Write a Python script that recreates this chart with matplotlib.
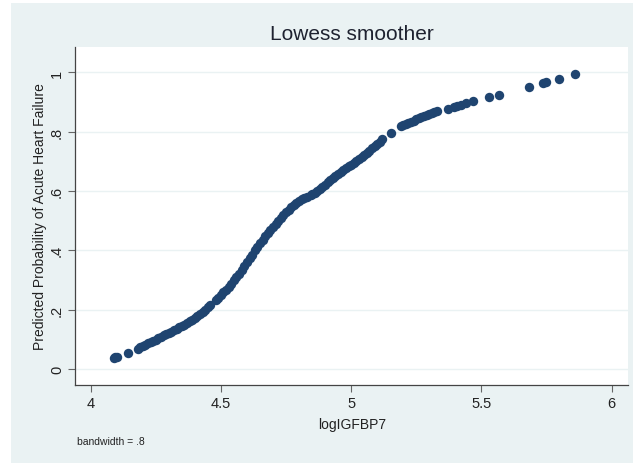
import matplotlib
matplotlib.use("Agg")
import matplotlib.pyplot as plt
from matplotlib.patches import Rectangle

plt.rcParams['font.family'] = ['Liberation Sans', 'DejaVu Sans']

# logIGFBP7 values and lowess predicted probability
log_igfbp7 = [
    4.088, 4.094, 4.100, 4.145, 4.180, 4.190, 4.200, 4.210, 4.220, 4.230,
    4.240, 4.250, 4.260, 4.270, 4.280, 4.290, 4.300, 4.310, 4.320, 4.330,
    4.340, 4.350, 4.360, 4.370, 4.380, 4.390, 4.400, 4.410, 4.420, 4.430,
    4.440, 4.450, 4.460, 4.480, 4.490, 4.500, 4.510, 4.520, 4.530, 4.540,
    4.550, 4.560, 4.570, 4.580, 4.590, 4.600, 4.610, 4.620, 4.630, 4.640,
    4.650, 4.660, 4.670, 4.680, 4.690, 4.700, 4.710, 4.720, 4.730, 4.740,
    4.750, 4.760, 4.770, 4.780, 4.790, 4.800, 4.810, 4.820, 4.830, 4.845,
    4.850, 4.860, 4.870, 4.880, 4.890, 4.900, 4.910, 4.920, 4.930, 4.940,
    4.950, 4.960, 4.970, 4.980, 4.990, 5.000, 5.010, 5.020, 5.030, 5.040,
    5.050, 5.060, 5.070, 5.080, 5.090, 5.100, 5.110, 5.120, 5.155, 5.190,
    5.200, 5.210, 5.220, 5.230, 5.240, 5.250, 5.260, 5.270, 5.280, 5.290,
    5.300, 5.310, 5.320, 5.330, 5.372, 5.395, 5.405, 5.420, 5.440, 5.468,
    5.530, 5.568, 5.684, 5.735, 5.748, 5.800, 5.861,
]
pred_prob = [
    0.037, 0.039, 0.040, 0.055, 0.069, 0.073, 0.077, 0.082, 0.086, 0.091,
    0.095, 0.099, 0.104, 0.108, 0.113, 0.117, 0.121, 0.126, 0.130, 0.135,
    0.140, 0.145, 0.150, 0.155, 0.161, 0.166, 0.172, 0.179, 0.186, 0.193,
    0.200, 0.208, 0.216, 0.233, 0.241, 0.250, 0.259, 0.268, 0.278, 0.288,
    0.299, 0.310, 0.322, 0.334, 0.347, 0.360, 0.373, 0.386, 0.400, 0.412,
    0.424, 0.436, 0.448, 0.460, 0.470, 0.480, 0.490, 0.500, 0.510, 0.519,
    0.528, 0.537, 0.545, 0.553, 0.560, 0.567, 0.573, 0.577, 0.580, 0.587,
    0.590, 0.595, 0.601, 0.608, 0.615, 0.622, 0.630, 0.637, 0.644, 0.651,
    0.658, 0.665, 0.671, 0.677, 0.683, 0.689, 0.695, 0.702, 0.708, 0.715,
    0.721, 0.728, 0.736, 0.744, 0.752, 0.760, 0.767, 0.775, 0.797, 0.818,
    0.822, 0.826, 0.830, 0.834, 0.838, 0.842, 0.846, 0.850, 0.853, 0.857,
    0.860, 0.863, 0.866, 0.869, 0.877, 0.885, 0.887, 0.891, 0.896, 0.903,
    0.916, 0.924, 0.950, 0.965, 0.967, 0.978, 0.994,
]

x_ticks = [4, 4.5, 5, 5.5, 6]
x_labels = ['4', '4.5', '5', '5.5', '6']
y_ticks = [0, 0.2, 0.4, 0.6, 0.8, 1]
y_labels = ['0', '.2', '.4', '.6', '.8', '1']

W, H = 633, 464
fig = plt.figure(figsize=(W / 100, H / 100), dpi=100)
fig.patch.set_facecolor('white')

# stata-like light background panel, behind the axes
panel = Rectangle((11 / W, -0.01), 1.0, 1.01 - 4 / H,
                  transform=fig.transFigure, facecolor='#eaf2f3',
                  edgecolor='none', zorder=-10)
fig.add_artist(panel)

left, right, bottom, top = 75, 628, 386, 48
ax = fig.add_axes([left / W, 1 - bottom / H, (right - left) / W, (bottom - top) / H])
ax.set_zorder(1)
ax.set_facecolor('white')

ax.scatter(log_igfbp7, pred_prob, s=46, color='#1f4470', linewidths=0, zorder=3)

ax.set_xlim(3.94, 6.063)
ax.set_ylim(-0.054, 1.086)
ax.set_xticks(x_ticks)
ax.set_xticklabels(x_labels)
ax.set_yticks(y_ticks)
ax.set_yticklabels(y_labels, rotation=90, va='center')

ax.grid(axis='y', color='#eaf2f3', linewidth=1.0)
ax.set_axisbelow(True)
for side in ['top', 'right']:
    ax.spines[side].set_visible(False)
for side in ['left', 'bottom']:
    ax.spines[side].set_color('#444444')
    ax.spines[side].set_linewidth(0.9)
ax.tick_params(length=5, width=0.8, color='#666666', labelsize=10.5,
               labelcolor='#222222', pad=3)

fig.text(352 / W, 1 - 35 / H, 'Lowess smoother', ha='center', va='center',
         fontsize=15, color='#1e2230')
fig.text(40 / W, 1 - 217 / H, 'Predicted Probability of Acute Heart Failure',
         rotation=90, ha='center', va='center', fontsize=10, color='#222222')
fig.text(352 / W, 1 - 425 / H, 'logIGFBP7', ha='center', va='center',
         fontsize=10, color='#222222')
fig.text(77 / W, 1 - 442 / H, 'bandwidth = .8', ha='left', va='center',
         fontsize=7.5, color='#222222')

fig.savefig('out.png', dpi=100)
